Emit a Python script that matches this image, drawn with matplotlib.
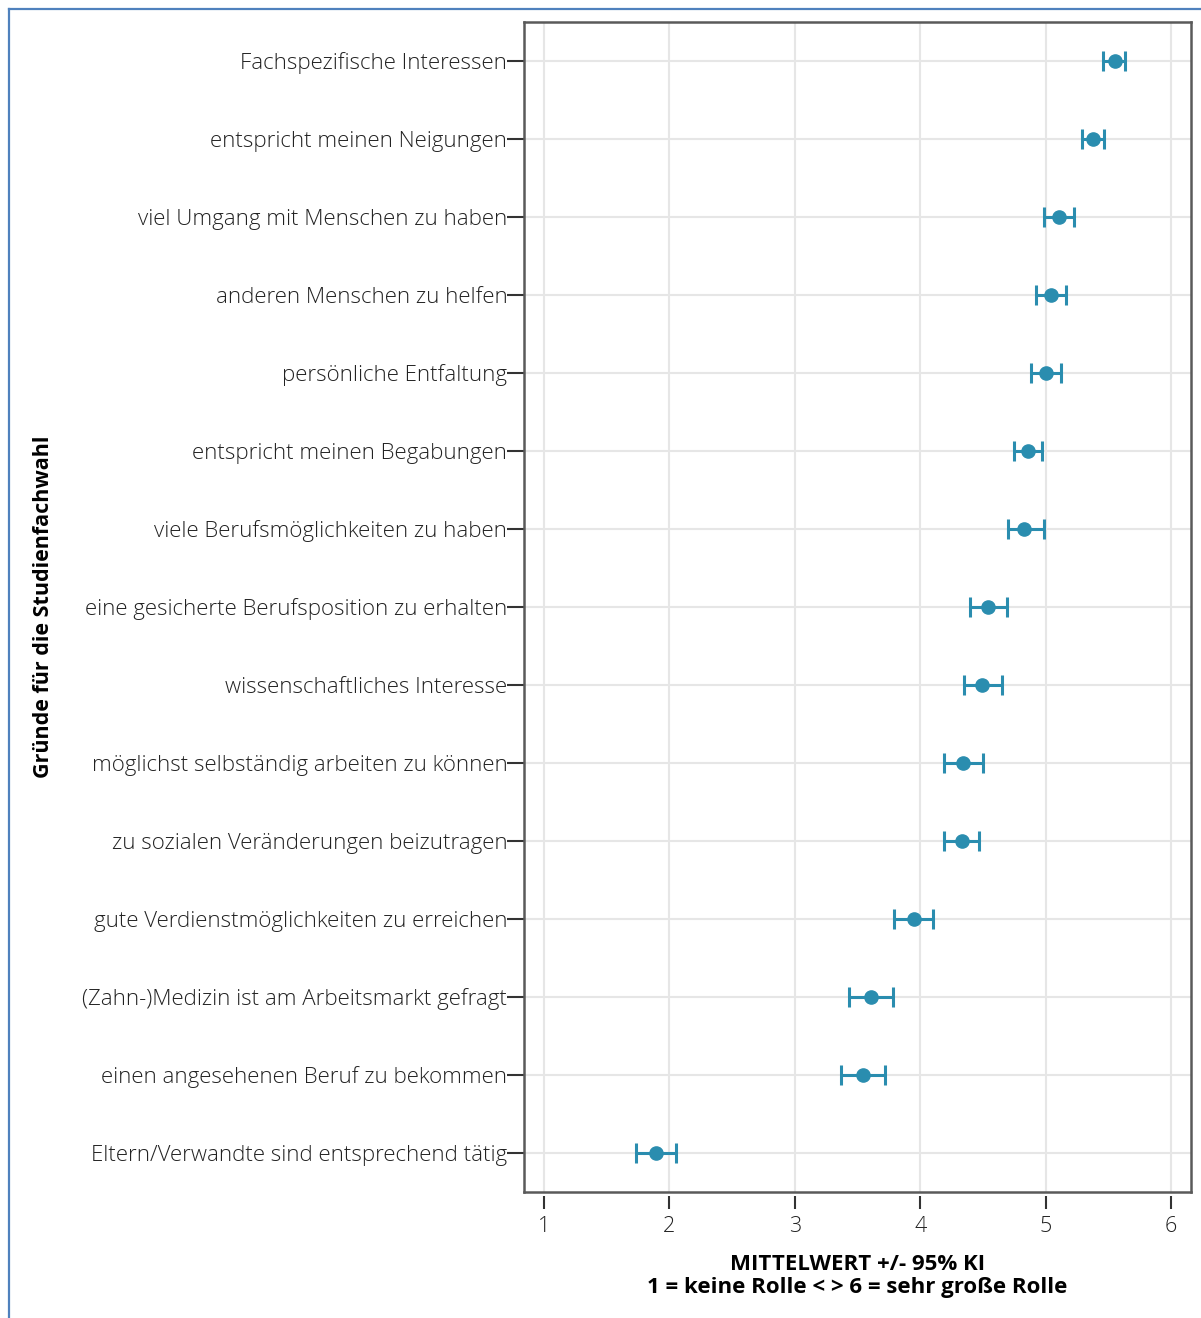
import numpy as np
import matplotlib
matplotlib.use('Agg')
import matplotlib.pyplot as plt
from matplotlib.lines import Line2D

plt.rcParams['font.family'] = ['Open Sans', 'DejaVu Sans']

# reasons, top to bottom
reasons = ['Fachspezifische Interessen',
           'entspricht meinen Neigungen',
           'viel Umgang mit Menschen zu haben',
           'anderen Menschen zu helfen',
           'persönliche Entfaltung',
           'entspricht meinen Begabungen',
           'viele Berufsmöglichkeiten zu haben',
           'eine gesicherte Berufsposition zu erhalten',
           'wissenschaftliches Interesse',
           'möglichst selbständig arbeiten zu können',
           'zu sozialen Veränderungen beizutragen',
           'gute Verdienstmöglichkeiten zu erreichen',
           '(Zahn-)Medizin ist am Arbeitsmarkt gefragt',
           'einen angesehenen Beruf zu bekommen',
           'Eltern/Verwandte sind entsprechend tätig']
means = [5.55, 5.38, 5.11, 5.04, 5.00, 4.86, 4.83, 4.54, 4.49, 4.34, 4.33, 3.95, 3.61, 3.54, 1.89]
ci_low = [5.46, 5.29, 4.99, 4.92, 4.88, 4.75, 4.70, 4.40, 4.35, 4.19, 4.19, 3.79, 3.43, 3.37, 1.73]
ci_high = [5.63, 5.47, 5.23, 5.16, 5.12, 4.97, 4.99, 4.69, 4.65, 4.50, 4.47, 4.10, 3.78, 3.72, 2.05]
xticks = [1, 2, 3, 4, 5, 6]

teal = '#2A8DAF'
grid_grey = '#E6E6E6'
frame_grey = '#5A5A5A'

W, H = 1201, 1318
fig = plt.figure(figsize=(W / 100, H / 100), dpi=100)
ax = fig.add_axes([524 / W, 1 - 1192 / H, (1191 - 524) / W, (1192 - 22) / H])

# ticks below the frame start with a small gap (set first, it resets the ticks)
ax.spines['bottom'].set_position(('outward', 3))
ax.spines['bottom'].set_visible(False)

y = np.arange(len(reasons))
m = np.array(means)
err = np.vstack([m - np.array(ci_low), np.array(ci_high) - m])

ax.errorbar(m, y, xerr=err, fmt='o', color=teal, ms=9.5, elinewidth=2.2,
            capsize=7.5, capthick=2.2, zorder=3)

ax.set_ylim(len(reasons) - 0.5, -0.5)
ax.set_xlim(0.84, 6.16)
ax.set_yticks(y)
ax.set_yticklabels(reasons, fontsize=16, color='#222222', fontweight='light')
ax.set_xticks(xticks)
ax.set_xticklabels([str(t) for t in xticks], fontsize=15.5, color='#222222', fontweight='light')

ax.grid(True, color=grid_grey, lw=1.5, zorder=0)
ax.set_axisbelow(True)

ax.tick_params(axis='y', length=12, width=1.5, color='#333333', pad=0)
ax.tick_params(axis='x', length=9.5, width=1.5, color='#333333', pad=5)

for s in ['left', 'right', 'top']:
    ax.spines[s].set_color(frame_grey)
    ax.spines[s].set_linewidth(1.8)
ax.plot([0, 1], [0, 0], transform=ax.transAxes, color=frame_grey, lw=1.8, clip_on=False, zorder=5)

ax.set_ylabel('Gründe für die Studienfachwahl', fontsize=15.5, fontweight='bold')
ax.set_xlabel('MITTELWERT +/- 95% KI\n1 = keine Rolle < > 6 = sehr große Rolle',
              fontsize=16, fontweight='bold', labelpad=12, linespacing=1.15)
ax.yaxis.set_label_coords(-0.705, 0.5)

# blue frame of the screenshot (left and top edges)
fig.add_artist(Line2D([8.5 / W, 8.5 / W], [0, 1 - 8.5 / H], color='#4F81BD', lw=1.6))
fig.add_artist(Line2D([8.5 / W, 1], [1 - 8.5 / H, 1 - 8.5 / H], color='#4F81BD', lw=1.6))

fig.savefig('out.png', dpi=100)
